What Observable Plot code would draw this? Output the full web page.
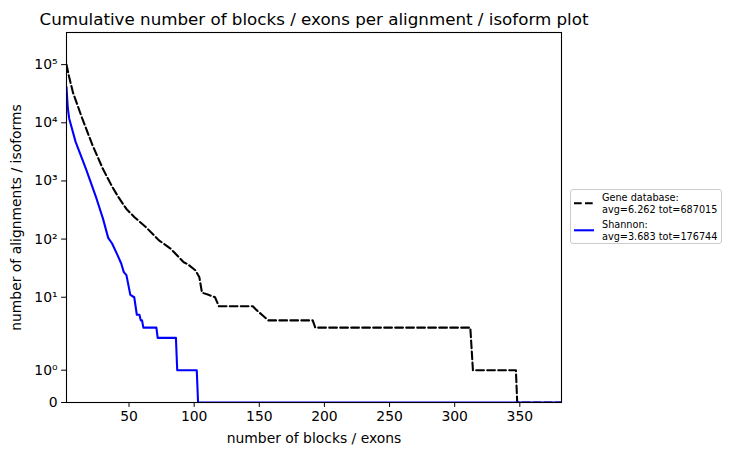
<!DOCTYPE html>
<html>
<head>
<meta charset="utf-8">
<script src="https://cdn.jsdelivr.net/npm/d3@7"></script>
<script src="https://cdn.jsdelivr.net/npm/@observablehq/plot@0.6"></script>
<style>
  html, body { margin: 0; padding: 0; background: #fff; }
  #wrap { position: relative; width: 732px; height: 455px; font-family: "DejaVu Sans", sans-serif; }
  #legend { position: absolute; left: 570px; top: 189px; width: 152px; height: 55px;
            border: 1px solid #cccccc; border-radius: 3px; background: rgba(255,255,255,0.8); box-sizing: border-box; }
</style>
</head>
<body>
<div id="wrap"></div>
<script>
// ---- data ----
const titleText = "Cumulative number of blocks / exons per alignment / isoform plot";
const xLabel = "number of blocks / exons";
const yLabel = "number of alignments / isoforms";

const geneX = [2, 4, 7, 14, 22, 30, 37, 42, 48, 54, 63, 73, 82, 92, 95, 101, 104, 106, 111, 116, 119, 145, 148, 152, 157, 191, 193, 312, 314, 347, 348, 382];
const geneY = [100000, 62000, 33000, 12000, 4100, 1600, 800, 520, 330, 240, 160, 95, 68, 40, 37, 29, 22, 12, 11, 10, 7, 7, 6, 5, 4, 4, 3, 3, 1, 1, 0, 0];

const shannonX = [2, 3, 4, 9, 17, 25, 30, 34, 37, 41, 44, 46, 48, 51, 54, 56, 58, 59, 60, 61, 71, 72, 86, 87, 102, 103, 382];
const shannonY = [41000, 18000, 12000, 4700, 1600, 500, 225, 105, 84, 54, 38, 27, 24, 11, 10, 5, 5, 4, 4, 3, 3, 2, 2, 1, 1, 0, 0];

const seriesNames = ["Gene database:", "Shannon:"];
const seriesStats = ["avg=6.262 tot=687015", "avg=3.683 tot=176744"];
const seriesColors = ["black", "#0000ff"];
const seriesDash = ["7.7,3.3", null];

const xDomain = [2, 382];
const yMax = 357000;
const xTickValues = [50, 100, 150, 200, 250, 300, 350];
const yTickValues = [0, 1, 10, 100, 1000, 10000, 100000];
const yTickLabels = ["0", "10⁰", "10¹", "10²", "10³", "10⁴", "10⁵"];

// matplotlib-style symlog (linthresh = 2, linscale = 1, base 10), in decade units
const LINTHRESH = 2, LINSCALE = 1 / (1 - 1 / 10);
const sym = v => v <= LINTHRESH ? (v / LINTHRESH) * LINSCALE : LINSCALE + Math.log10(v / LINTHRESH);

const geneRows = geneX.map((x, i) => ({x, y: sym(geneY[i])}));
const shannonRows = shannonX.map((x, i) => ({x, y: sym(shannonY[i])}));
const yTickPos = yTickValues.map(sym);
const yLabelOf = new Map(yTickPos.map((p, i) => [p, yTickLabels[i]]));

const chart = Plot.plot({
  width: 732,
  height: 455,
  marginLeft: 66,
  marginRight: 171,
  marginTop: 32,
  marginBottom: 53,
  style: {fontFamily: "DejaVu Sans", fontSize: "13.9px", background: "white", color: "black", overflow: "visible"},
  x: {domain: xDomain, label: null},
  y: {domain: [0, sym(yMax)], label: null},
  marks: [
    Plot.axisX({ticks: xTickValues, tickSize: 4.9, tickPadding: 4, tickFormat: d => String(d), label: null, fontSize: 13.9}),
    Plot.axisY({ticks: yTickPos, tickSize: 4.9, tickPadding: 4, tickFormat: d => yLabelOf.get(d), label: null, fontSize: 13.9}),
    Plot.lineY(geneRows, {x: "x", y: "y", stroke: seriesColors[0], strokeWidth: 2.08, strokeDasharray: seriesDash[0], clip: true}),
    Plot.lineY(shannonRows, {x: "x", y: "y", stroke: seriesColors[1], strokeWidth: 2.08, clip: true}),
    Plot.frame({stroke: "black", strokeWidth: 1.1}),
    Plot.text([titleText], {frameAnchor: "top", dy: -8, lineAnchor: "bottom", textAnchor: "middle", fontSize: 16.7, fill: "black"}),
    Plot.text([xLabel], {frameAnchor: "bottom", dy: 36, lineAnchor: "middle", textAnchor: "middle", fontSize: 13.9, fill: "black"}),
    Plot.text([yLabel], {frameAnchor: "left", dx: -50, rotate: -90, lineAnchor: "middle", textAnchor: "middle", fontSize: 13.9, fill: "black"})
  ]
});

const wrap = document.getElementById("wrap");
wrap.appendChild(chart);

// legend (HTML/SVG overlay)
const legend = document.createElement("div");
legend.id = "legend";
wrap.appendChild(legend);
const lsvg = d3.select(legend).append("svg").attr("width", 150).attr("height", 53)
  .style("position", "absolute").style("left", "0px").style("top", "0px")
  .style("font-family", "DejaVu Sans").style("font-size", "9.7px");
seriesNames.forEach((name, i) => {
  const base = i * 27;
  lsvg.append("line").attr("x1", 3).attr("x2", 23).attr("y1", base + 13.3).attr("y2", base + 13.3)
    .attr("stroke", seriesColors[i]).attr("stroke-width", 2.08)
    .attr("stroke-dasharray", seriesDash[i]);
  lsvg.append("text").attr("x", 31).attr("y", base + 10.7).attr("fill", "black").text(name);
  lsvg.append("text").attr("x", 31).attr("y", base + 22.7).attr("fill", "black").text(seriesStats[i]);
});
</script>
</body>
</html>
